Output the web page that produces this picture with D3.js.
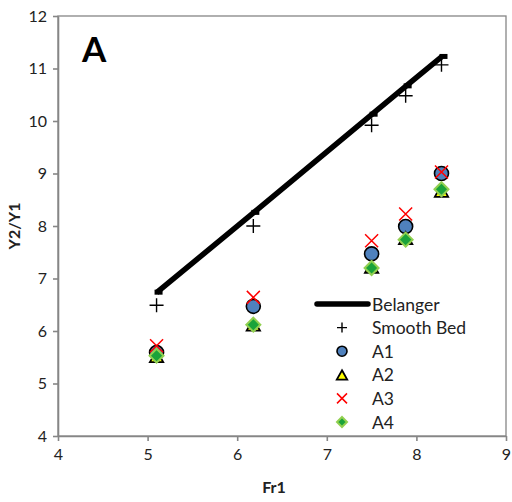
<!DOCTYPE html>
<html><head><meta charset="utf-8">
<script src="https://cdn.jsdelivr.net/npm/d3@7"></script>
<style>body{margin:0;background:#fff}svg{display:block}</style>
</head><body><svg id="c" width="512" height="502"></svg>
<script>
const fr = [5.1, 6.18, 7.5, 7.88, 8.28];
const belanger = [6.73, 8.25, 10.12, 10.66, 11.22];
const smoothBed = [6.49, 8.0, 9.92, 10.48, 11.07];
const a1 = [5.59, 6.47, 7.47, 7.99, 9.0];
const a2 = [5.5, 6.1, 7.2, 7.75, 8.65];
const a3 = [5.72, 6.64, 7.72, 8.23, 9.03];
const a4 = [5.53, 6.12, 7.2, 7.74, 8.7];
const xTicks = [4, 5, 6, 7, 8, 9];
const yTicks = [4, 5, 6, 7, 8, 9, 10, 11, 12];
const legendLabels = ["Belanger", "Smooth Bed", "A1", "A2", "A3", "A4"];

const FONT = "Lato, 'Open Sans', 'Liberation Sans', sans-serif";
const svg = d3.select("#c").attr("font-family", FONT);
const L = 58, R = 506, T = 16, B = 436;
const x = d3.scaleLinear().domain([4, 9]).range([L, R]);
const y = d3.scaleLinear().domain([4, 12]).range([B, T]);
const axisCol = "#868686";

svg.append("rect").attr("x", L).attr("y", T).attr("width", R - L).attr("height", B - T)
  .attr("fill", "none").attr("stroke", axisCol).attr("stroke-width", 1.3);

const xa = svg.append("g").attr("transform", `translate(0,${B})`)
  .call(d3.axisBottom(x).tickValues(xTicks).tickFormat(d3.format("d")).tickSize(5).tickPadding(8).tickSizeOuter(0));
const ya = svg.append("g").attr("transform", `translate(${L},0)`)
  .call(d3.axisLeft(y).tickValues(yTicks).tickFormat(d3.format("d")).tickSize(5).tickPadding(6).tickSizeOuter(0));
[xa, ya].forEach(a => {
  a.attr("font-family", FONT);
  a.selectAll("path,line").attr("stroke", axisCol).attr("stroke-width", 1.6);
  a.selectAll("text").attr("font-size", 16).attr("fill", "#222");
});

svg.append("text").attr("x", 274).attr("y", 493).attr("text-anchor", "middle")
  .attr("font-size", 16).attr("font-weight", "bold").attr("fill", "#222").text("Fr1");
svg.append("text").attr("transform", "translate(20,226) rotate(-90)").attr("text-anchor", "middle")
  .attr("font-size", 16).attr("font-weight", "bold").attr("fill", "#222").text("Y2/Y1");
svg.append("text").attr("x", 82).attr("y", 62).attr("font-size", 35).attr("font-weight", "bold")
  .attr("fill", "#000").text("A");

const pts = s => fr.map((f, i) => [f, s[i]]);

svg.append("path").datum(pts(belanger))
  .attr("d", d3.line().x(d => x(d[0])).y(d => y(d[1])))
  .attr("fill", "none").attr("stroke", "#000").attr("stroke-width", 5.5);
svg.append("g").selectAll("rect").data(pts(belanger)).join("rect")
  .attr("x", d => x(d[0]) - 2).attr("y", d => y(d[1]) - 3).attr("width", 8).attr("height", 5).attr("fill", "#000");

const drawPlus = (g, cx, cy, s) => g.append("path")
  .attr("d", `M${cx - s},${cy}H${cx + s}M${cx},${cy - s}V${cy + s}`).attr("stroke", "#000").attr("stroke-width", 1.4).attr("fill", "none");
const drawCircle = (g, cx, cy, r) => g.append("circle").attr("cx", cx).attr("cy", cy).attr("r", r)
  .attr("fill", "#4f81bd").attr("stroke", "#000").attr("stroke-width", 1.6);
const drawTri = (g, cx, cy, s) => g.append("path")
  .attr("d", `M${cx},${cy - s}L${cx + s * 0.95},${cy + s * 0.7}L${cx - s * 0.95},${cy + s * 0.7}Z`)
  .attr("fill", "#ffff00").attr("stroke", "#000").attr("stroke-width", 1.8);
const drawX = (g, cx, cy, s) => g.append("path")
  .attr("d", `M${cx - s},${cy - s}L${cx + s},${cy + s}M${cx + s},${cy - s}L${cx - s},${cy + s}`)
  .attr("stroke", "#ff0000").attr("stroke-width", 1.5).attr("fill", "none");
const drawDia = (g, cx, cy, s) => g.append("path")
  .attr("d", `M${cx},${cy - s}L${cx + s},${cy}L${cx},${cy + s}L${cx - s},${cy}Z`)
  .attr("fill", "#1aa33a").attr("stroke", "#92d050").attr("stroke-width", 2);

const gm = svg.append("g");
pts(smoothBed).forEach(d => drawPlus(gm, x(d[0]), y(d[1]), 7));
pts(a1).forEach(d => drawCircle(gm, x(d[0]), y(d[1]), 7));
pts(a2).forEach(d => drawTri(gm, x(d[0]), y(d[1]), 7));
pts(a3).forEach(d => drawX(gm, x(d[0]), y(d[1]), 6.5));
pts(a4).forEach(d => drawDia(gm, x(d[0]), y(d[1]), 7));

const lg = svg.append("g");
const ly0 = 304, dy = 23.6, mx = 342, tx = 372;
legendLabels.forEach((lab, i) => {
  const cy = ly0 + i * dy;
  lg.append("text").attr("x", tx).attr("y", cy + 6.5).attr("font-size", 17.5).attr("fill", "#222").text(lab);
});
lg.append("line").attr("x1", 317).attr("x2", 368).attr("y1", ly0).attr("y2", ly0)
  .attr("stroke", "#000").attr("stroke-width", 5.5).attr("stroke-linecap", "round");
drawPlus(lg, mx, ly0 + dy, 5);
drawCircle(lg, mx, ly0 + 2 * dy, 5);
drawTri(lg, mx, ly0 + 3 * dy + 1, 5.5);
drawX(lg, mx, ly0 + 4 * dy, 5);
drawDia(lg, mx, ly0 + 5 * dy, 5);
</script></body></html>
